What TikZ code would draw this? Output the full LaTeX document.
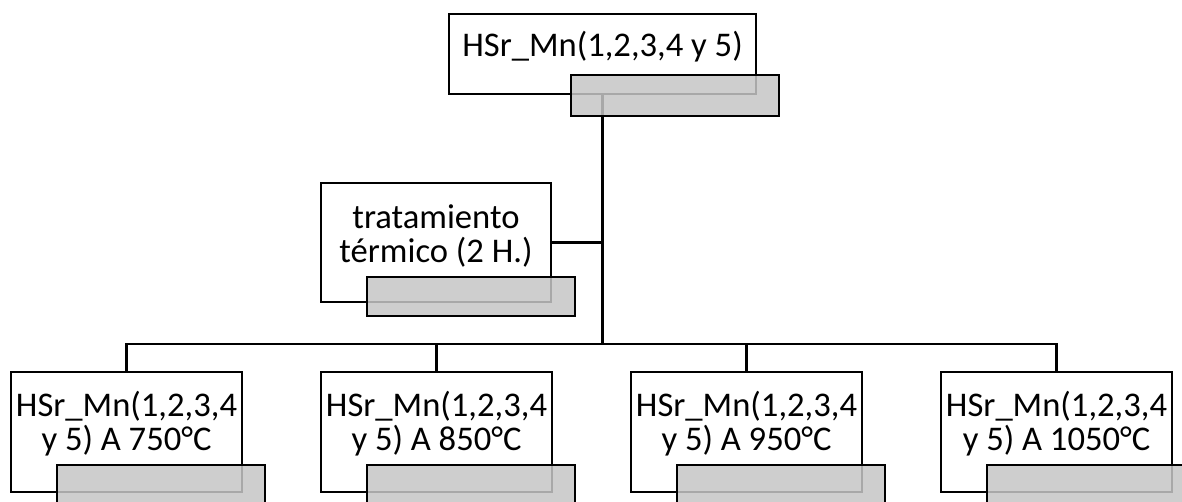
\documentclass[tikz,border=0pt]{standalone}
\usepackage{fontspec}
\setmainfont{Carlito}
\begin{document}
\begin{tikzpicture}[x=1pt,y=-1pt,
  wbox/.style={draw=black,line width=2.6pt,fill=white,inner sep=0pt,minimum width=231pt,minimum height=120pt},
  gbox/.style={draw=black,line width=2.6pt,fill={rgb,255:red,198;green,198;blue,198},fill opacity=0.85,draw opacity=1,inner sep=0pt,minimum width=208pt,minimum height=41pt},
  txt/.style={inner sep=0pt,align=center,font=\fontsize{34.6}{34}\selectfont,text=black},
  conn/.style={draw=black,line width=2.4pt}]
\useasboundingbox (0,0) rectangle (1182,501);
\clip (0,0) rectangle (1182,501);
% white boxes
\node[wbox,minimum width=307pt,minimum height=80pt] (top) at (602.5,54) {};
\node[wbox,minimum width=230pt,minimum height=119pt] (trat) at (436,242.5) {};
\node[wbox] (b1) at (126.5,432) {};
\node[wbox] (b2) at (436.5,432) {};
\node[wbox] (b3) at (746.5,432) {};
\node[wbox] (b4) at (1056.5,432) {};
% texts
\node[txt] (ttop) at (602.5,46.5) {HSr\_Mn(1,2,3,4 y 5)};
\node[txt] (ttrat) at (436,236) {tratamiento\\térmico (2 H.)};
\node[txt] (t1) at (126.5,423.5) {HSr\_Mn(1,2,3,4\\y 5) A 750°C};
\node[txt] (t2) at (436.5,423.5) {HSr\_Mn(1,2,3,4\\y 5) A 850°C};
\node[txt] (t3) at (746.5,423.5) {HSr\_Mn(1,2,3,4\\y 5) A 950°C};
\node[txt] (t4) at (1056.5,423.5) {HSr\_Mn(1,2,3,4\\y 5) A 1050°C};
% connectors
\coordinate (bus) at (602,344);
\draw[conn] (top.south) -- (top.south |- bus);
\draw[conn] (trat.east) -- (trat.east -| top.south);
\draw[conn] (b1.north) -- (b1.north |- bus) -- (b4.north |- bus) -- (b4.north);
\draw[conn] (b2.north) -- (b2.north |- bus);
\draw[conn] (b3.north) -- (b3.north |- bus);
% gray boxes
\node[gbox] (gtop) at (675,95.5) {};
\node[gbox,minimum height=39pt] (gtrat) at (471,296.5) {};
\node[gbox] (g1) at (161,485.5) {};
\node[gbox] (g2) at (471,485.5) {};
\node[gbox] (g3) at (781,485.5) {};
\node[gbox] (g4) at (1091,485.5) {};
\end{tikzpicture}
\end{document}
